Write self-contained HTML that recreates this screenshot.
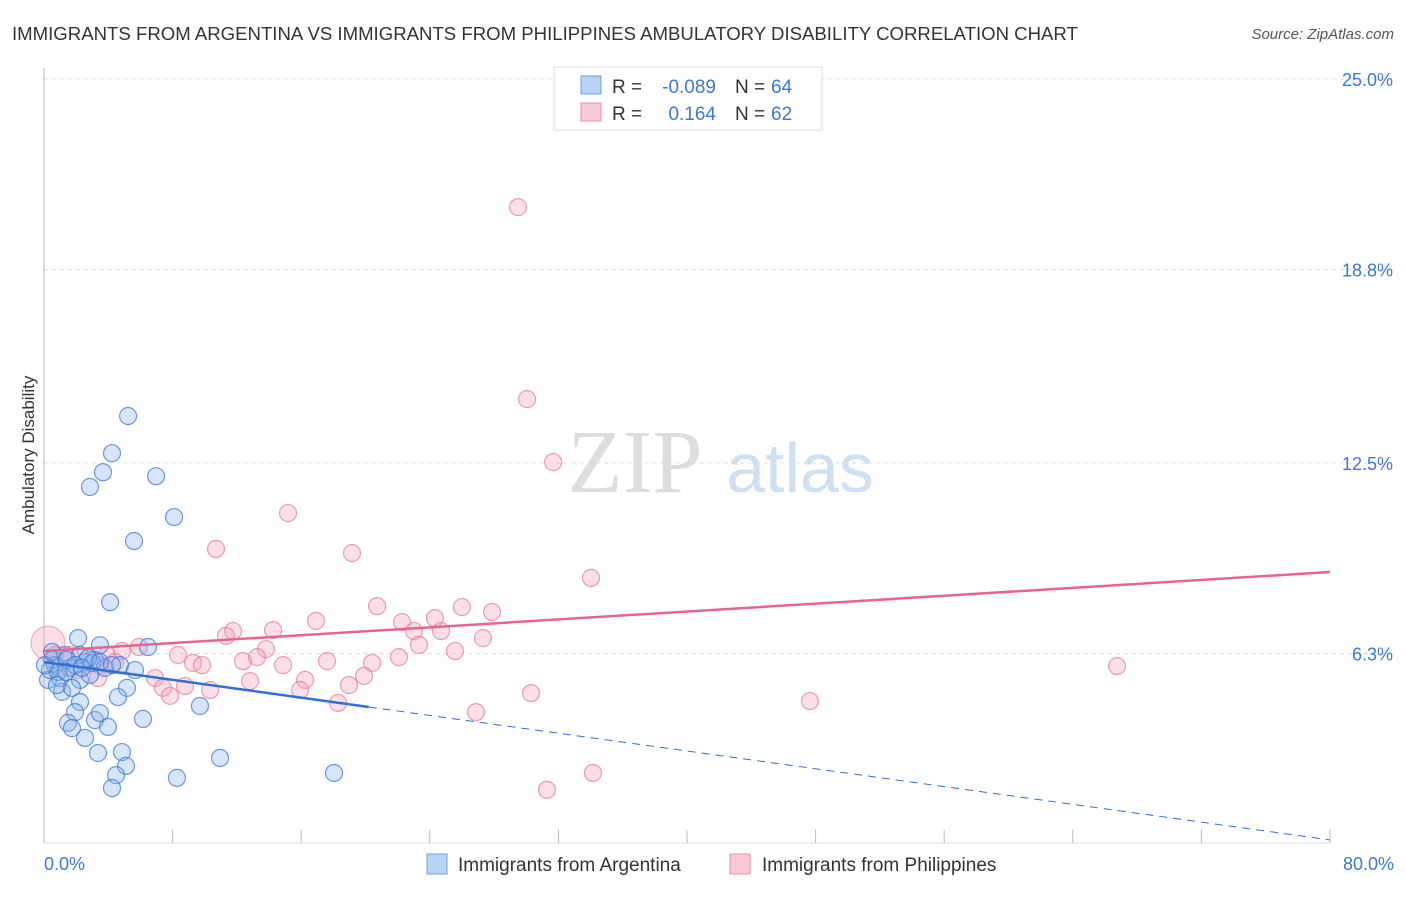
<!DOCTYPE html>
<html><head><meta charset="utf-8"><style>
body{margin:0;background:#fff;font-family:"Liberation Sans",sans-serif;}
</style></head><body>
<svg width="1406" height="892" xmlns="http://www.w3.org/2000/svg" font-family="Liberation Sans, sans-serif">
<text x="12" y="40" font-size="18.6" fill="#333">IMMIGRANTS FROM ARGENTINA VS IMMIGRANTS FROM PHILIPPINES AMBULATORY DISABILITY CORRELATION CHART</text>
<text x="1394" y="39" font-size="15" fill="#555" font-style="italic" text-anchor="end">Source: ZipAtlas.com</text>
<text x="635" y="492" font-size="90" fill="#ddd" font-family="Liberation Serif, serif" text-anchor="middle">ZIP</text>
<text x="800" y="492" font-size="70" fill="#cfe0f3" text-anchor="middle">atlas</text>
<g id="grid"></g><g id="axes"></g><g id="pts"></g><g id="lines"></g>
<text x="34" y="455" font-size="17" fill="#333" transform="rotate(-90 34 455)" text-anchor="middle">Ambulatory Disability</text>
<text x="44" y="870" font-size="18" fill="#3b78d8">0.0%</text>
<text x="1394" y="870" font-size="18" fill="#3b78d8" text-anchor="end">80.0%</text>
<g>
<rect x="554" y="67" width="268" height="63" fill="#fff" stroke="#ddd"/>
<rect x="581" y="76" width="20" height="18" fill="#b8d3f5" stroke="#6a9fe0"/>
<rect x="581" y="103" width="20" height="18" fill="#f9c9d6" stroke="#e890aa"/>
<text x="612" y="93" font-size="19" fill="#333">R =</text>
<text x="716" y="93" font-size="19" fill="#3b78d8" text-anchor="end">-0.089</text>
<text x="735" y="93" font-size="19" fill="#333">N =</text>
<text x="771" y="93" font-size="19" fill="#3b78d8">64</text>
<text x="612" y="120" font-size="19" fill="#333">R =</text>
<text x="716" y="120" font-size="19" fill="#3b78d8" text-anchor="end">0.164</text>
<text x="735" y="120" font-size="19" fill="#333">N =</text>
<text x="771" y="120" font-size="19" fill="#3b78d8">62</text>
</g>
<g>
<rect x="427" y="854" width="20" height="20" fill="#b8d3f5" stroke="#6a9fe0"/>
<text x="458" y="871" font-size="19" fill="#333">Immigrants from Argentina</text>
<rect x="730" y="854" width="20" height="20" fill="#f9c9d6" stroke="#e890aa"/>
<text x="762" y="871" font-size="19" fill="#333">Immigrants from Philippines</text>
</g>
</svg>
<script>
const yTicks=[6.3,12.5,18.8,25.0];
const blueX=[5.23,4.23,3.67,2.86,6.97,8.09,5.60,4.11,2.12,3.48,6.47,0.50,1.31,2.24,3.17,0.68,1.62,2.55,4.73,5.66,0.25,1.00,2.24,1.12,1.74,2.86,5.16,4.60,9.70,2.24,1.93,1.49,1.74,3.17,3.48,3.98,2.55,6.16,3.36,4.85,5.10,4.48,4.23,8.27,10.95,18.04,0.37,0.87,0.06,2.99,3.79,2.74,1.43,1.93,3.48,4.23,0.81,1.37,0.50,2.36];
const blueY=[14.03,12.82,12.20,11.72,12.07,10.74,9.96,7.97,6.80,6.57,6.51,6.09,6.25,6.25,6.09,5.92,5.83,6.02,5.92,5.76,5.44,5.50,5.44,5.05,5.18,5.60,5.18,4.88,4.59,4.72,4.39,4.04,3.87,4.13,4.36,3.91,3.55,4.17,3.06,3.09,2.64,2.34,1.92,2.25,2.90,2.41,5.76,5.70,5.92,5.99,5.83,6.15,6.09,5.92,6.02,5.92,5.27,5.70,6.35,5.83];
const pinkX=[29.49,30.05,31.67,15.18,10.70,19.16,34.03,20.72,26.00,27.87,24.32,16.92,22.27,11.76,14.25,23.02,24.70,11.32,27.31,23.33,13.81,5.91,4.85,3.92,8.34,13.25,25.57,22.08,12.38,9.27,9.83,17.61,20.41,14.87,66.75,0.68,1.62,2.86,3.48,4.42,6.91,3.36,19.91,16.24,12.82,8.77,7.40,10.33,18.97,15.93,30.30,7.84,18.29,47.65,26.87,34.15,31.29,1.00,2.12];
const pinkY=[20.83,14.58,12.53,10.87,9.70,9.57,8.76,7.84,7.81,7.65,7.45,7.36,7.32,7.03,7.06,7.03,7.03,6.87,6.80,6.58,6.44,6.51,6.38,6.25,6.25,6.18,6.38,6.18,6.05,5.99,5.92,6.05,5.99,5.92,5.89,6.25,6.25,6.09,5.92,6.02,5.50,5.50,5.57,5.44,5.40,5.24,5.18,5.11,5.27,5.11,5.01,4.92,4.69,4.75,4.39,2.41,1.86,5.83,5.76];
const bigPink=[0.25,6.64];
const blueTrend=[6.02,0.23], pinkTrend=[6.38,8.95];
const NS='http://www.w3.org/2000/svg';
const sx=v=>44+v/80*1286, sy=v=>847-v/6.25*192;
function mk(t,a,p){const e=document.createElementNS(NS,t);for(const k in a)e.setAttribute(k,a[k]);document.getElementById(p).appendChild(e);return e;}
yTicks.forEach(t=>{
 const l=mk('line',{x1:44,x2:1394,y1:sy(t),y2:sy(t),stroke:'#ddd','stroke-dasharray':'4,4'},'grid');
 
 
 const tx=mk('text',{x:1393,y:sy(t)+7,'font-size':18,fill:'#3b78d8','text-anchor':'end'},'grid');
 tx.textContent=t.toFixed(1)+'%';
 
 
});
const ax=mk('line',{x1:44,x2:44,y1:68,y2:843,stroke:'#bbb'},'axes');


const bx=mk('line',{x1:44,x2:1330,y1:843,y2:843,stroke:'#ddd'},'axes');


for(let i=0;i<=10;i++){const t=mk('line',{x1:sx(i*8),x2:sx(i*8),y1:830,y2:843,stroke:'#bbb'},'axes');
 
 }
const bp=mk('circle',{cx:sx(bigPink[0]),cy:sy(bigPink[1]),r:17,fill:'rgba(244,160,185,0.35)',stroke:'rgba(230,120,150,0.6)'},'pts');


pinkX.forEach((x,i)=>{const c=mk('circle',{cx:sx(x),cy:sy(pinkY[i]),r:8.5,fill:'rgba(244,160,185,0.35)',stroke:'rgba(230,120,150,0.7)','stroke-width':1.2},'pts');
 
 });
blueX.forEach((x,i)=>{const c=mk('circle',{cx:sx(x),cy:sy(blueY[i]),r:8.5,fill:'rgba(140,180,235,0.35)',stroke:'rgba(60,120,215,0.75)','stroke-width':1.2},'pts');
 
 });
const bEnd=20.2;
const bs=blueTrend[0]+(blueTrend[1]-blueTrend[0])*(bEnd/80);
const l1=mk('line',{x1:sx(0),y1:sy(blueTrend[0]),x2:sx(bEnd),y2:sy(bs),stroke:'#2f6fd6','stroke-width':2.5},'lines');


const l2=mk('line',{x1:sx(bEnd),y1:sy(bs),x2:sx(80),y2:sy(blueTrend[1]),stroke:'#2f6fd6','stroke-width':1,'stroke-dasharray':'8,6'},'lines');


const l3=mk('line',{x1:sx(0),y1:sy(pinkTrend[0]),x2:sx(80),y2:sy(pinkTrend[1]),stroke:'#e8648e','stroke-width':2.5},'lines');


</script>
</body></html>
